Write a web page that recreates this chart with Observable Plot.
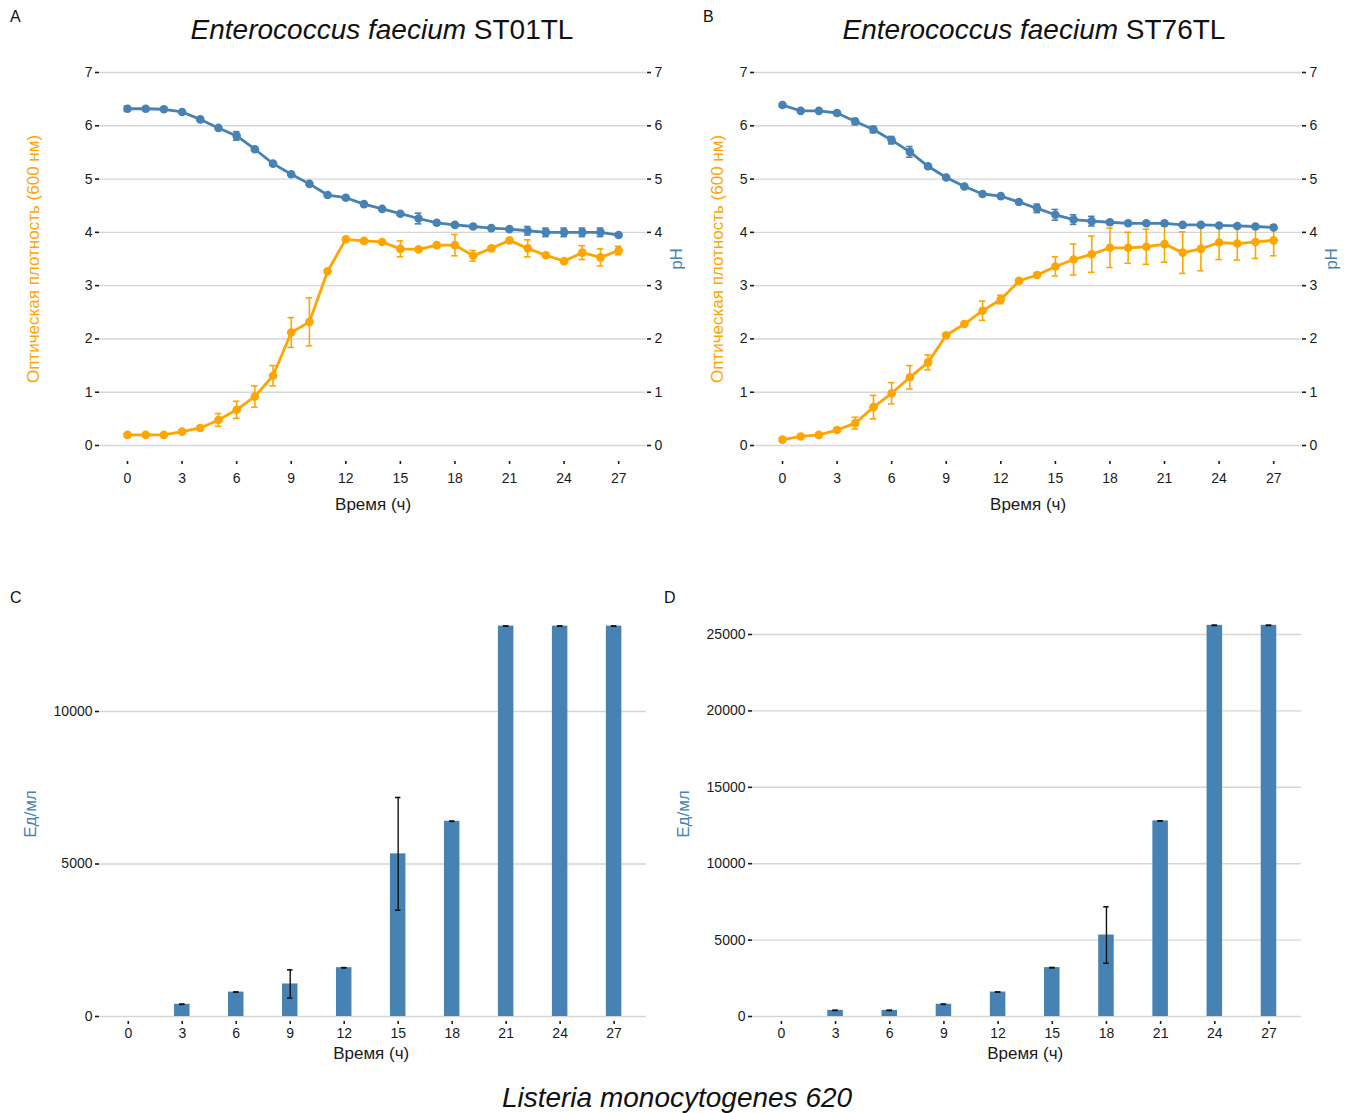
<!DOCTYPE html>
<html>
<head>
<meta charset="utf-8">
<script src="https://cdn.jsdelivr.net/npm/d3@7"></script>
<script src="https://cdn.jsdelivr.net/npm/@observablehq/plot@0.6"></script>
<style>
  html, body { margin: 0; padding: 0; background: #fff; }
  #root { position: relative; width: 1354px; height: 1113px; background: #fff; font-family: "Liberation Sans", Arial, sans-serif; color: #111; }
  #root svg { position: absolute; overflow: visible; }
  .lbl { position: absolute; white-space: nowrap; line-height: 1; }
</style>
</head>
<body>
<div id="root"></div>
<script>
// ---------- DATA ----------
const hoursLine = [0,1,2,3,4,5,6,7,8,9,10,11,12,13,14,15,16,17,18,19,20,21,22,23,24,25,26,27];

// Panel A: Enterococcus faecium ST01TL
const odA    = [0.20,0.20,0.20,0.26,0.33,0.48,0.67,0.92,1.31,2.12,2.32,3.27,3.87,3.84,3.82,3.69,3.68,3.76,3.76,3.56,3.70,3.85,3.70,3.57,3.46,3.62,3.53,3.66];
const odA_sd = [0.03,0.02,0.02,0.03,0.04,0.12,0.16,0.20,0.19,0.28,0.45,0.03,0.03,0.03,0.03,0.15,0.03,0.03,0.20,0.10,0.03,0.03,0.16,0.03,0.03,0.13,0.16,0.08];
const phA    = [6.32,6.32,6.31,6.26,6.12,5.96,5.81,5.56,5.29,5.09,4.91,4.70,4.65,4.53,4.44,4.35,4.26,4.18,4.14,4.11,4.08,4.06,4.03,4.00,4.00,4.00,4.00,3.95];
const phA_sd = [0.05,0.03,0.02,0.02,0.02,0.03,0.08,0.03,0.03,0.02,0.02,0.03,0.02,0.03,0.02,0.03,0.10,0.03,0.03,0.02,0.02,0.03,0.08,0.08,0.08,0.08,0.08,0.03];

// Panel B: Enterococcus faecium ST76TL
const odB    = [0.11,0.17,0.20,0.29,0.42,0.72,0.98,1.28,1.56,2.07,2.28,2.53,2.74,3.09,3.20,3.36,3.49,3.59,3.71,3.71,3.73,3.78,3.62,3.69,3.81,3.79,3.82,3.85];
const odB_sd = [0.03,0.03,0.03,0.04,0.11,0.22,0.20,0.22,0.14,0.03,0.03,0.18,0.08,0.03,0.04,0.18,0.29,0.34,0.37,0.29,0.33,0.34,0.39,0.41,0.32,0.31,0.31,0.29];
const phB    = [6.39,6.28,6.28,6.24,6.08,5.93,5.73,5.51,5.24,5.03,4.86,4.72,4.68,4.57,4.45,4.33,4.24,4.21,4.19,4.17,4.17,4.17,4.14,4.14,4.13,4.12,4.11,4.09];
const phB_sd = [0.03,0.02,0.02,0.03,0.06,0.06,0.07,0.10,0.03,0.02,0.02,0.03,0.02,0.03,0.08,0.10,0.09,0.09,0.03,0.02,0.02,0.02,0.02,0.02,0.02,0.02,0.02,0.02];

// Panels C and D: activity against Listeria monocytogenes 620
const hoursBar = [0,3,6,9,12,15,18,21,24,27];
const actC    = [0,400,800,1067,1600,5333,6400,12800,12800,12800];
const actC_sd = [0,0,0,462,0,1848,0,0,0,0];
const actD    = [0,400,400,800,1600,3200,5333,12800,25600,25600];
const actD_sd = [0,0,0,0,0,0,1848,0,0,0];

const xTicks = [0,3,6,9,12,15,18,21,24,27];
const yTicksLine = [0,1,2,3,4,5,6,7];
const yTicksC = [0,5000,10000];
const yTicksD = [0,5000,10000,15000,20000,25000];

const titleA = ["Enterococcus faecium", "ST01TL"];
const titleB = ["Enterococcus faecium", "ST76TL"];
const caption = "Listeria monocytogenes 620";
const xLabel = "Время (ч)";
const odLabel = "Оптическая плотность (600 нм)";
const phLabel = "pH";
const actLabel = "Ед/мл";

// ---------- STYLE ----------
const ORANGE = "#FFA500";
const BLUE = "#4682B4";
const GRID = "#d6d6d6";
const INK = "#1a1a1a";
const FONT = "\"Liberation Sans\", Arial, sans-serif";

const root = document.getElementById("root");

function place(el, left, top) {
  el.style.left = left + "px";
  el.style.top = top + "px";
  root.appendChild(el);
}

function series(vals, sds) {
  return hoursLine.map((t, i) => ({t, v: vals[i], lo: vals[i] - sds[i], hi: vals[i] + sds[i]}));
}

function seriesMarks(data, color) {
  return [
    Plot.ruleX(data, {x: "t", y1: "lo", y2: "hi", stroke: color, strokeWidth: 1.6}),
    Plot.ruleY(data, {y: "hi", x1: d => d.t - 0.18, x2: d => d.t + 0.18, stroke: color, strokeWidth: 1.6}),
    Plot.ruleY(data, {y: "lo", x1: d => d.t - 0.18, x2: d => d.t + 0.18, stroke: color, strokeWidth: 1.6}),
    Plot.line(data, {x: "t", y: "v", stroke: color, strokeWidth: 2.8}),
    Plot.dot(data, {x: "t", y: "v", fill: color, r: 4.3})
  ];
}

function linePanel(od, odSd, ph, phSd, odDx) {
  const odData = series(od, odSd);
  const phData = series(ph, phSd);
  return Plot.plot({
    width: 690, height: 470,
    marginLeft: 99, marginRight: 44, marginTop: 12, marginBottom: 69,
    style: {fontFamily: FONT, fontSize: "14px", background: "transparent", color: INK, overflow: "visible"},
    x: {domain: [-1.54, 28.53]},
    y: {domain: [-0.3, 7]},
    marks: [
      Plot.gridY(yTicksLine, {stroke: GRID, strokeOpacity: 1, strokeWidth: 1.4}),
      Plot.axisY({anchor: "left", ticks: yTicksLine, tickSize: 4, tickPadding: 3, label: null, strokeWidth: 1.6, fontSize: 14}),
      Plot.axisY({anchor: "right", ticks: yTicksLine, tickSize: 4, tickPadding: 4, label: null, strokeWidth: 1.6, fontSize: 14}),
      Plot.axisX({ticks: xTicks, tickSize: 3, tickPadding: 9, label: null, strokeWidth: 1.6, fontSize: 14}),
      ...seriesMarks(odData, ORANGE),
      ...seriesMarks(phData, BLUE),
      Plot.text([{x: 13.5, s: xLabel}], {x: "x", text: "s", frameAnchor: "bottom", dy: 48, fontSize: 17, fill: INK}),
      Plot.text([{y: 3.5, s: odLabel}], {y: "y", text: "s", frameAnchor: "left", textAnchor: "middle", dx: odDx, rotate: -90, fontSize: 17, fill: ORANGE}),
      Plot.text([{y: 3.5, s: phLabel}], {y: "y", text: "s", frameAnchor: "right", textAnchor: "middle", dx: 30, rotate: -90, fontSize: 17, fill: BLUE})
    ]
  });
}

function barPanel(vals, sds, yDomain, yTicks, mLeft) {
  const data = hoursBar.map((t, i) => ({t, v: vals[i], lo: vals[i] - sds[i], hi: vals[i] + sds[i]}));
  const err = data.filter(d => d.v > 0);
  return Plot.plot({
    width: 690, height: 490,
    marginLeft: mLeft, marginRight: 44, marginTop: 16, marginBottom: 59,
    style: {fontFamily: FONT, fontSize: "14px", background: "transparent", color: INK, overflow: "visible"},
    x: {domain: [-1.6, 28.8]},
    y: {domain: yDomain},
    marks: [
      Plot.gridY(yTicks, {stroke: GRID, strokeOpacity: 1, strokeWidth: 1.4}),
      Plot.rectY(data, {x1: d => d.t - 0.43, x2: d => d.t + 0.43, y1: 0, y2: "v", fill: BLUE}),
      Plot.ruleX(err, {x: "t", y1: "lo", y2: "hi", stroke: "#111", strokeWidth: 1.4}),
      Plot.ruleY(err, {y: "hi", x1: d => d.t - 0.15, x2: d => d.t + 0.15, stroke: "#111", strokeWidth: 1.6}),
      Plot.ruleY(err, {y: "lo", x1: d => d.t - 0.15, x2: d => d.t + 0.15, stroke: "#111", strokeWidth: 1.6}),
      Plot.axisY({anchor: "left", ticks: yTicks, tickSize: 4, tickPadding: 3, label: null, strokeWidth: 1.6, fontSize: 14, tickFormat: d => String(d)}),
      Plot.axisX({ticks: xTicks, tickSize: 3, tickPadding: 4, label: null, strokeWidth: 1.6, fontSize: 14}),
      Plot.text([{x: 13.5, s: xLabel}], {x: "x", text: "s", frameAnchor: "bottom", dy: 37, fontSize: 17, fill: INK}),
      Plot.text([{s: actLabel}], {text: "s", frameAnchor: "left", textAnchor: "middle", dx: -69, rotate: -90, fontSize: 17, fill: BLUE})
    ]
  });
}

place(linePanel(odA, odA_sd, phA, phA_sd, -66), 0, 60);
place(linePanel(odB, odB_sd, phB, phB_sd, -37), 655, 60);
place(barPanel(actC, actC_sd, [-164, 13443], yTicksC, 99), 0, 590);
place(barPanel(actD, actD_sd, [-327, 26833], yTicksD, 97), 655, 590);

function label(text, left, top, size, opts = {}) {
  const d = document.createElement("div");
  d.className = "lbl";
  d.style.fontSize = size + "px";
  if (opts.italic) d.style.fontStyle = "italic";
  if (opts.center) d.style.transform = "translateX(-50%)";
  d.innerHTML = text;
  place(d, left, top);
  return d;
}

label("A", 10, 9, 16);
label("B", 703, 9, 16);
label("C", 10, 590, 16);
label("D", 664, 590, 16);
label(`<i>${titleA[0]}</i> ${titleA[1]}`, 382, 16, 28, {center: true});
label(`<i>${titleB[0]}</i> ${titleB[1]}`, 1034, 16, 28, {center: true});
label(caption, 677, 1084, 28, {center: true, italic: true});
</script>
</body>
</html>
